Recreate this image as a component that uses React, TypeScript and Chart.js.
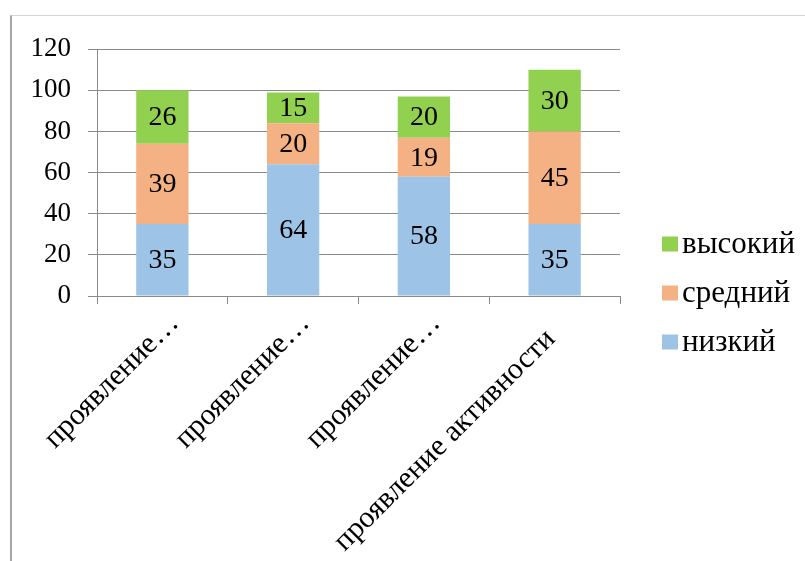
import React, { useEffect, useRef } from "react";
import { Chart, registerables } from "chart.js";

Chart.register(...registerables);

const categories = ["проявление…", "проявление…", "проявление…", "проявление активности\u00A0\u00A0\u00A0"];
const lowValues = [35, 64, 58, 35];
const midValues = [39, 20, 19, 45];
const highValues = [26, 15, 20, 30];
const seriesNames = ["низкий", "средний", "высокий"];
const seriesColors = ["#9DC3E6", "#F4B183", "#92D050"];
const yTicks = [0, 20, 40, 60, 80, 100, 120];

const FONT = '"Liberation Serif", "Times New Roman", serif';

const valueLabelPlugin = {
  id: "valueLabels",
  afterDatasetsDraw(chart: any) {
    const ctx = chart.ctx;
    ctx.save();
    ctx.font = `28px ${FONT}`;
    ctx.fillStyle = "#000";
    ctx.textAlign = "center";
    ctx.textBaseline = "middle";
    chart.data.datasets.forEach((ds: any, i: number) => {
      const meta = chart.getDatasetMeta(i);
      meta.data.forEach((el: any, j: number) => {
        const v = ds.data[j];
        const cy = (el.y + el.base) / 2;
        ctx.fillText(String(v), el.x, cy + 1);
      });
    });
    ctx.restore();
  },
};

const legendPlugin = {
  id: "sideLegend",
  afterDraw(chart: any) {
    const ctx = chart.ctx;
    const area = chart.chartArea;
    ctx.save();
    ctx.font = `31px ${FONT}`;
    ctx.textBaseline = "middle";
    ctx.textAlign = "left";
    const order = [2, 1, 0];
    const centerY = chart.height / 2 + 5;
    const step = 49;
    order.forEach((idx, k) => {
      const y = centerY + (k - 1) * step;
      const x = area.right + 42;
      ctx.fillStyle = seriesColors[idx];
      ctx.fillRect(x, y - 8, 16, 15);
      ctx.fillStyle = "#000";
      ctx.fillText(seriesNames[idx], x + 20, y);
    });
    ctx.restore();
  },
};

export default function App() {
  const ref = useRef<HTMLCanvasElement | null>(null);
  useEffect(() => {
    if (!ref.current) return;
    const chart = new Chart(ref.current, {
      type: "bar",
      data: {
        labels: categories,
        datasets: [
          { label: seriesNames[0], data: lowValues, backgroundColor: seriesColors[0] },
          { label: seriesNames[1], data: midValues, backgroundColor: seriesColors[1] },
          { label: seriesNames[2], data: highValues, backgroundColor: seriesColors[2] },
        ],
      },
      options: {
        animation: false,
        responsive: false,
        maintainAspectRatio: false,
        layout: { padding: { top: 28, right: 185, left: 0, bottom: 0 } },
        datasets: { bar: { categoryPercentage: 1, barPercentage: 0.4 } } as any,
        plugins: {
          legend: { display: false },
          tooltip: { enabled: false },
        },
        scales: {
          x: {
            stacked: true,
            grid: {
              drawOnChartArea: false,
              drawTicks: true,
              tickLength: 8,
              color: "#8a8a8a",
              offset: true,
            },
            border: { color: "#8a8a8a", width: 1 },
            ticks: {
              minRotation: 45,
              maxRotation: 45,
              autoSkip: false,
              color: "#000",
              padding: 2,
              labelOffset: 12,
              font: { family: FONT, size: 30 },
            },
            afterFit(scale: any) {
              scale.height = 265;
            },
          },
          y: {
            stacked: true,
            min: 0,
            max: 120,
            afterBuildTicks(scale: any) {
              scale.ticks = yTicks.map((v) => ({ value: v }));
            },
            grid: { color: "#8a8a8a", tickLength: 9 },
            border: { color: "#8a8a8a", width: 1 },
            ticks: {
              color: "#000",
              padding: 17,
              font: { family: FONT, size: 27 },
            },
            afterFit(scale: any) {
              scale.width = 85;
            },
          },
        },
      },
      plugins: [valueLabelPlugin, legendPlugin],
    });
    return () => chart.destroy();
  }, []);

  return (
    <div
      style={{
        position: "absolute",
        left: 10,
        top: 15,
        width: 820,
        height: 560,
        borderLeft: "2px solid #a6a6a6",
        borderTop: "1px solid #d4d4d4",
        background: "#fff",
      }}
    >
      <canvas ref={ref} width={793} height={545} style={{ display: "block", width: 793, height: 545 }} />
    </div>
  );
}
